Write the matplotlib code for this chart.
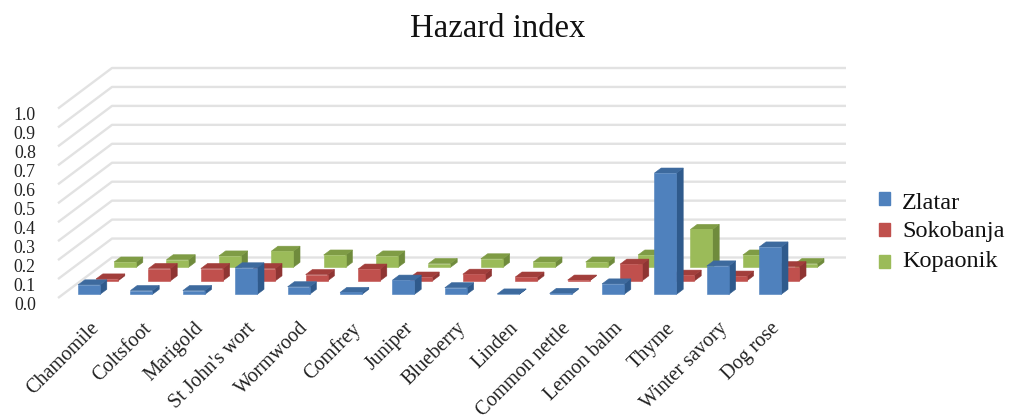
import matplotlib
matplotlib.use("Agg")
import matplotlib.pyplot as plt
from matplotlib.patches import Polygon, Patch
from matplotlib.transforms import ScaledTranslation

plt.rcParams['font.family'] = ['Liberation Serif', 'DejaVu Serif']

categories = ["Chamomile", "Coltsfoot", "Marigold", "St John's wort", "Wormwood", "Comfrey", "Juniper",
              "Blueberry", "Linden", "Common nettle", "Lemon balm", "Thyme", "Winter savory", "Dog rose"]
zlatar = [0.05, 0.02, 0.02, 0.14, 0.04, 0.01, 0.075, 0.035, 0.002, 0.005, 0.055, 0.64, 0.15, 0.25]
sokobanja = [0.01, 0.065, 0.065, 0.065, 0.033, 0.062, 0.02, 0.035, 0.02, 0.004, 0.088, 0.03, 0.025, 0.075]
kopaonik = [0.028, 0.04, 0.06, 0.085, 0.065, 0.06, 0.02, 0.045, 0.028, 0.028, 0.065, 0.2, 0.065, 0.02]
series_names = ["Zlatar", "Sokobanja", "Kopaonik"]
series_values = [zlatar, sokobanja, kopaonik]
face_colors = ["#4F81BD", "#C0504D", "#9BBB59"]
top_colors = ["#3D6A9E", "#A23E3B", "#7F9C45"]
side_colors = ["#2F5A8C", "#8F3533", "#6F8B3C"]
grid_color = "#E2E2E2"
y_ticks = [i / 10 for i in range(11)]

W, H = 1016, 419
fig = plt.figure(figsize=(W / 100, H / 100), dpi=100)
L, R, T, B = 58, 846, 67.5, 298
ax = fig.add_axes([L / W, 1 - B / H, (R - L) / W, (B - T) / H])
cat_px = 52.4
val_px = 189.5
ax.set_xlim(0, (R - L) / cat_px)
ax.set_ylim(0, (B - T) / val_px)
for s in ax.spines.values():
    s.set_visible(False)
ax.patch.set_visible(False)

# oblique projection: total wall depth in category/value units
DX = 54 / cat_px
DY = 40.5 / val_px


def project(c, d, v):
    return (c + d * DX, v + d * DY)


# walls
for v in y_ticks:
    ax.plot(*zip(project(0, 0, v), project(0, 1, v), project(ax.get_xlim()[1] - DX, 1, v)),
            color=grid_color, lw=1.7, solid_capstyle='butt', zorder=1, clip_on=False)

bar_w = 22 / cat_px
gap = (1 - bar_w) / 2
bar_d = 0.125
front = 0.09
z = 2
for s in (2, 1, 0):
    d0 = front + s / 3
    d1 = d0 + bar_d
    for i, val in enumerate(series_values[s]):
        c0, c1 = i + gap, i + gap + bar_w
        top = [project(c0, d0, val), project(c1, d0, val), project(c1, d1, val), project(c0, d1, val)]
        side = [project(c1, d0, 0), project(c1, d1, 0), project(c1, d1, val), project(c1, d0, val)]
        frnt = [project(c0, d0, 0), project(c1, d0, 0), project(c1, d0, val), project(c0, d0, val)]
        for poly, col in ((side, side_colors[s]), (top, top_colors[s]), (frnt, face_colors[s])):
            ax.add_patch(Polygon(poly, closed=True, fc=col, ec=col, lw=0.4, zorder=z, clip_on=False))
        z += 1

ax.set_yticks(y_ticks, [f"{v:.1f}" for v in y_ticks], fontsize=12.8, color="#222222")
ax.tick_params(axis='y', length=0, pad=16)
for lab in ax.get_yticklabels():
    lab.set_transform(lab.get_transform() + ScaledTranslation(0, -5 / 100, fig.dpi_scale_trans))

ax.set_xticks([i + 0.5 for i in range(len(categories))], categories, rotation=45, ha='right',
              rotation_mode='anchor', fontsize=14.5, color="#222222")
ax.tick_params(axis='x', length=0, pad=15)
for lab in ax.get_xticklabels():
    lab.set_transform(lab.get_transform() + ScaledTranslation(5 / 100, 0, fig.dpi_scale_trans))

fig.text(498 / W, 1 - 28.5 / H, "Hazard index", ha='center', va='center', fontsize=23.6, color="#111111")

handles = [Patch(fc=c, ec=c, label=n) for c, n in zip(face_colors, series_names)]
leg = fig.legend(handles=handles, loc='center left', bbox_to_anchor=(879 / W, 1 - 233 / H), frameon=False,
                 fontsize=17.5, handlelength=0.45, handleheight=0.45, handletextpad=0.5, labelspacing=0.44,
                 borderpad=0, borderaxespad=0, labelcolor="#111111")
for t, shift in zip(leg.get_texts(), (-2.5, 1, 3)):
    t.set_y(shift)

fig.savefig("out.png", dpi=100)
